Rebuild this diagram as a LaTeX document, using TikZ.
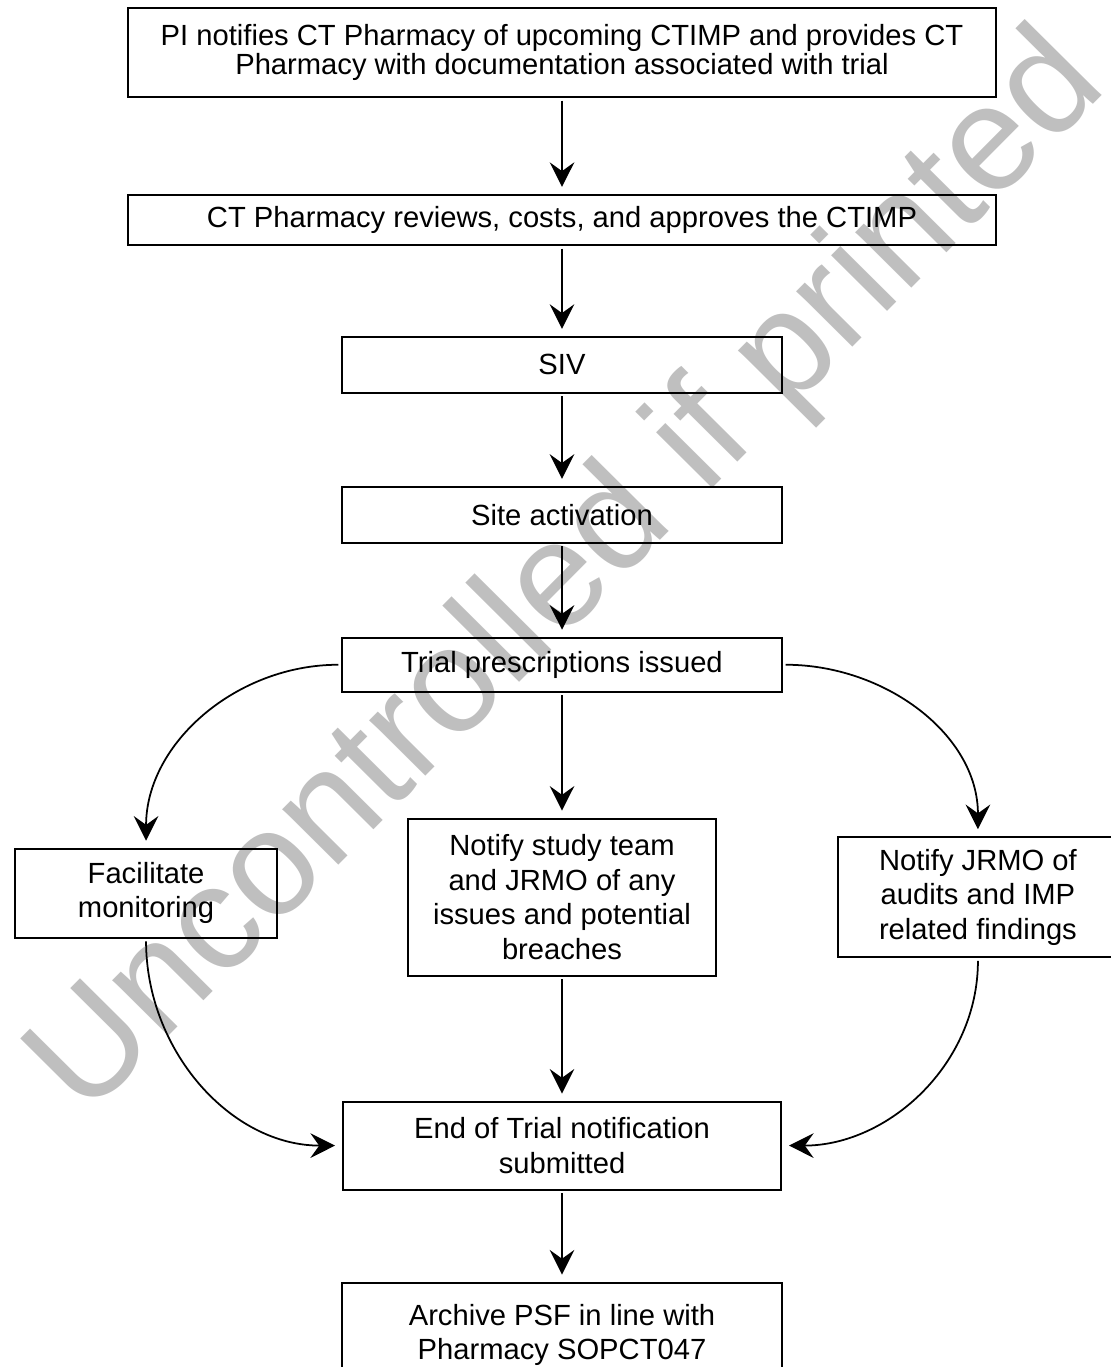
\documentclass[tikz,border=0pt]{standalone}
\usepackage{fontspec}
\setmainfont{Liberation Sans}
\usetikzlibrary{arrows.meta, positioning}

\begin{document}
\begin{tikzpicture}[
    stepbox/.style  ={rectangle, draw=black, line width=1.1pt, align=center,
                      inner sep=2pt, font=\fontsize{16.6}{19.6}\selectfont},
    wide/.style     ={stepbox, minimum width=17.36cm},
    mid/.style      ={stepbox, minimum width=8.8cm},
    arr/.style      ={-{Stealth[length=14pt, width=14pt, inset=5pt]}, line width=1pt,
                      shorten >=4pt, shorten <=1.5pt},
    watermark/.style={text=black!25, font=\fontsize{85}{85}\selectfont}
]
    \useasboundingbox (0,0) rectangle (22.2,-27.34);

    % watermark behind the flow
    \node[watermark, rotate=45.2] (wm) at (11.4,-11.54) {Uncontrolled if printed};

    \node[wide, minimum height=1.78cm, font=\fontsize{16.6}{17}\selectfont] (pi) at (11.24,-1.05)
        {PI notifies CT Pharmacy of upcoming CTIMP and provides CT\\Pharmacy with documentation associated with trial};
    \node[wide, minimum height=1.0cm,  below=1.92cm of pi]     (review)  {CT Pharmacy reviews, costs, and approves the CTIMP};
    \node[mid,  minimum height=1.12cm, below=1.8cm of review]  (siv)     {SIV};
    \node[mid,  minimum height=1.12cm, below=1.84cm of siv]    (site)    {Site activation};
    \node[mid,  minimum height=1.08cm, below=1.86cm of site]   (trial)   {Trial prescriptions issued};
    \node[stepbox, minimum width=6.16cm, minimum height=3.14cm, below=2.5cm of trial] (notify)
        {Notify study team\\and JRMO of any\\issues and potential\\breaches};
    \node[stepbox, minimum width=5.24cm, minimum height=1.78cm, left=2.58cm of notify, yshift=0.08cm] (fac)
        {Facilitate\\monitoring};
    \node[stepbox, minimum width=5.6cm,  minimum height=2.4cm,  right=2.4cm of notify] (jrmo)
        {Notify JRMO of\\audits and IMP\\related findings};
    \node[mid,  minimum width=8.76cm, minimum height=1.76cm, below=2.48cm of notify] (end)
        {End of Trial notification\\submitted};
    \node[mid,  minimum height=2.1cm, below=1.82cm of end]     (archive)
        {Archive PSF in line with\\Pharmacy SOPCT047};

    \draw[arr] (pi)     -- (review);
    \draw[arr] (review) -- (siv);
    \draw[arr] (siv)    -- (site);
    \draw[arr] (site)   -- (trial);
    \draw[arr] (trial)  -- (notify);
    \draw[arr] (notify) -- (end);
    \draw[arr] (end)    -- (archive);
    \draw[arr] (trial.west) to[out=180, in=90]  (fac.north);
    \draw[arr] (trial.east) to[out=0,   in=90]  (jrmo.north);
    \draw[arr] (fac.south)  to[out=-90, in=180] (end.west);
    \draw[arr] (jrmo.south) to[out=-90, in=0]   (end.east);
\end{tikzpicture}
\end{document}
